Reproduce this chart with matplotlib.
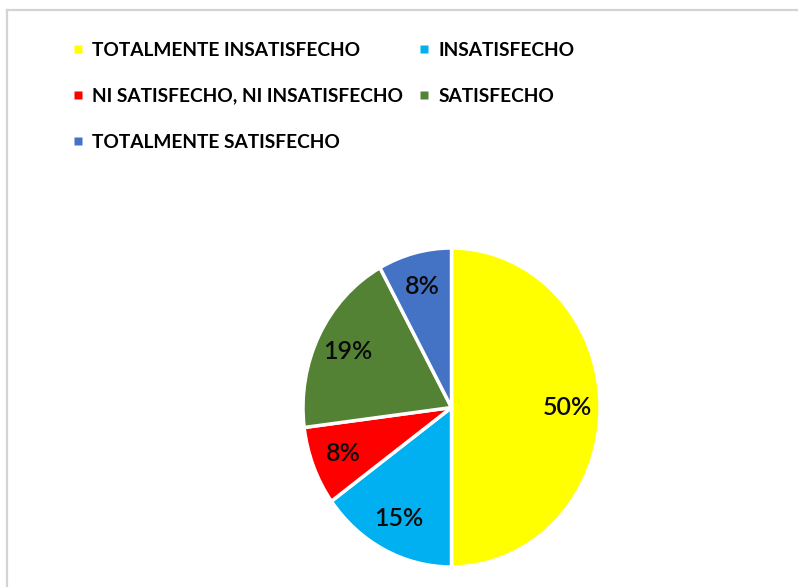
import matplotlib
matplotlib.use("Agg")
import matplotlib.pyplot as plt
from matplotlib.lines import Line2D

categories = [
    "TOTALMENTE INSATISFECHO",
    "INSATISFECHO",
    "NI SATISFECHO, NI INSATISFECHO",
    "SATISFECHO",
    "TOTALMENTE SATISFECHO",
]
percentages = [50, 15, 8, 19, 8]
colors = ["#FFFF00", "#00B0F0", "#FF0000", "#548235", "#4472C4"]

plt.rcParams["font.family"] = ["Lato", "DejaVu Sans"]

W, H = 798, 587
fig = plt.figure(figsize=(W / 100, H / 100), dpi=100)

# pie occupies a slightly tall box, so the circle comes out a little stretched
cx, cy, rx, ry = 451.5, 407.5, 148.5, 159.5
ax = fig.add_axes([(cx - rx) / W, (H - cy - ry) / H, 2 * rx / W, 2 * ry / H])
wedges, _, pct_texts = ax.pie(
    percentages,
    colors=colors,
    startangle=90,
    counterclock=False,
    autopct="%.0f%%",
    pctdistance=0.78,
    wedgeprops=dict(edgecolor="white", linewidth=2.5),
    textprops=dict(fontsize=18, color="#0a0a0a", weight="semibold"),
)
ax.set_aspect("auto")
ax.set_xlim(-1, 1)
ax.set_ylim(-1, 1)

# legend reads row by row, so feed it column-wise
order = [0, 2, 4, 1, 3]
handles = [
    Line2D([], [], linestyle="none", marker="s", markersize=5.5,
           markerfacecolor=colors[i], markeredgecolor="none")
    for i in order
]
fig.legend(
    handles,
    [categories[i] for i in order],
    ncol=2,
    loc="upper left",
    bbox_to_anchor=(72 / W, 1 - 42 / H),
    frameon=False,
    prop=dict(family="Lato", weight="bold", size=13.8),
    handlelength=0.6,
    handletextpad=0.45,
    columnspacing=0.8,
    labelspacing=1.5,
    borderpad=0,
    borderaxespad=0,
)

# light grey frame along top and left edges
fig.add_artist(Line2D([7 / W, 1], [1 - 10 / H, 1 - 10 / H], color="#d4d4d4", linewidth=1.6))
fig.add_artist(Line2D([7 / W, 7 / W], [0, 1 - 10 / H], color="#d4d4d4", linewidth=1.6))

fig.savefig("out.png", dpi=100, facecolor="white")
